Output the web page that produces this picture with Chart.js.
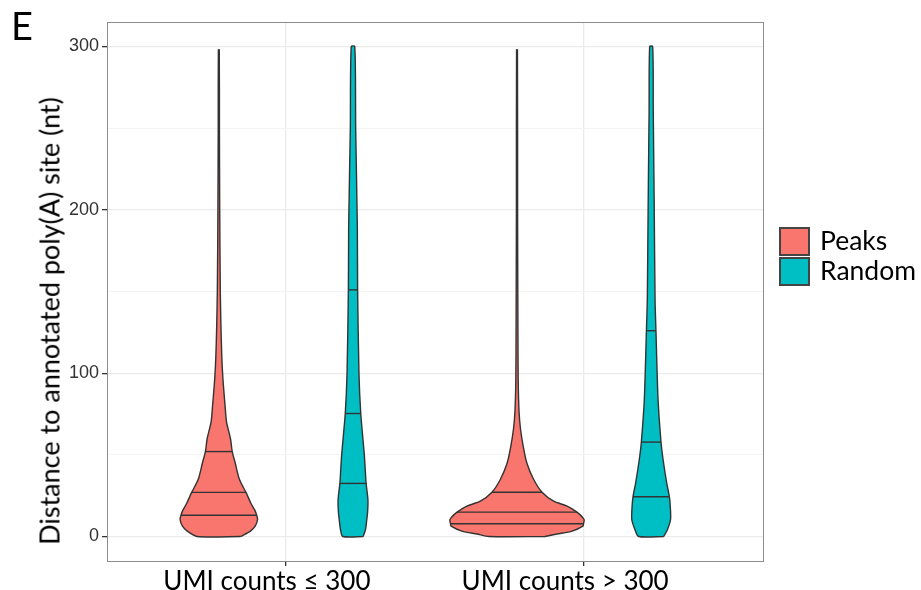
<!DOCTYPE html>
<html>
<head>
<meta charset="utf-8">
<script src="https://cdn.jsdelivr.net/npm/chart.js@4.4.1/dist/chart.umd.min.js"></script>
<style>
  body { margin: 0; background: #fff; }
  #wrap { position: relative; width: 921px; height: 590px; }
  #tag { position: absolute; left: 11px; top: 2px; font: 38px Lato, "Open Sans", sans-serif; color: #000; }
  #ytitle { position: absolute; left: 49px; top: 321px; transform: translate(-50%, -50%) rotate(-90deg);
            white-space: nowrap; font: 27px Lato, "Open Sans", sans-serif; color: #000; }
  .leg { position: absolute; left: 779px; font: 26.5px Lato, "Open Sans", sans-serif; color: #000; }
  .leg span { position: absolute; left: 0; width: 27px; height: 25px; border: 2px solid #444; }
  .leg div { position: absolute; left: 41px; top: -1px; white-space: nowrap; line-height: 28px; }
</style>
</head>
<body>
<div id="wrap">
  <canvas id="violinChart" width="921" height="590"></canvas>
  <div id="tag">E</div>
  <div id="ytitle">Distance to annotated poly(A) site (nt)</div>
  <div id="legend"></div>
</div>
<script>
// kategorie i grupy
const categories = ['UMI counts ≤ 300', 'UMI counts > 300'];
const groups = ['Peaks', 'Random'];
const groupColors = ['#F8766D', '#00BFC4'];
const yTicks = [0, 50, 100, 150, 200, 250, 300];

// połowa szerokości skrzypiec (w jednostkach osi x) na danych poziomach y
const peaksLowLevels = [0, 3.3, 6.3, 10.4, 13, 16, 20.2, 27, 35, 45, 52, 60, 70, 80, 96, 110, 130, 150, 200, 250, 298];
const peaksLowWidths = [0.073, 0.106, 0.122, 0.130, 0.127, 0.121, 0.108, 0.091, 0.069, 0.055, 0.045, 0.039, 0.026, 0.021, 0.014, 0.010, 0.007, 0.005, 0.003, 0.002, 0.0015];
const peaksLowQuantiles = [13, 27, 52];

const randomLowLevels = [0, 4.3, 10, 15, 22.6, 32.5, 50, 75.3, 100, 151, 190, 250, 300];
const randomLowWidths = [0.034, 0.042, 0.046, 0.049, 0.050, 0.044, 0.038, 0.026, 0.020, 0.0155, 0.0145, 0.009, 0.006];
const randomLowQuantiles = [32.5, 75.3, 151];

const peaksHighLevels = [0, 1.5, 3.3, 6.3, 7.8, 10.4, 14.9, 18.6, 21.6, 27.1, 34.9, 45, 55, 65.5, 76, 96, 130, 200, 298];
const peaksHighWidths = [0.094, 0.134, 0.185, 0.221, 0.223, 0.225, 0.201, 0.168, 0.123, 0.084, 0.056, 0.033, 0.021, 0.012, 0.007, 0.004, 0.003, 0.002, 0.0015];
const peaksHighQuantiles = [7.8, 14.9, 27.1];

const randomHighLevels = [0, 4, 10.4, 18.6, 24.3, 32.9, 47, 57.8, 84, 126, 145, 206, 260, 300];
const randomHighWidths = [0.042, 0.054, 0.065, 0.064, 0.061, 0.052, 0.040, 0.033, 0.023, 0.016, 0.013, 0.010, 0.007, 0.005];
const randomHighQuantiles = [24.3, 57.8, 126];

const DODGE = 0.225; // przesunięcie grupy od środka kategorii

function violinOutline(center, levels, widths) {
    const right = levels.map((y, i) => ({ x: center + widths[i], y }));
    const left = levels.map((y, i) => ({ x: center - widths[i], y })).reverse();
    return [...right, ...left, right[0]];
}

function makeViolin(catIdx, grpIdx, levels, widths, quantiles) {
    const center = catIdx + 1 + (grpIdx === 0 ? -DODGE : DODGE);
    const sets = [{
        data: violinOutline(center, levels, widths),
        borderColor: '#333',
        borderWidth: 1.4,
        backgroundColor: groupColors[grpIdx],
        fill: 'shape',
        pointRadius: 0,
        tension: 0.25,
        order: 2
    }];
    quantiles.forEach(q => {
        const w = widths[levels.indexOf(q)];
        sets.push({
            data: [{ x: center - w, y: q }, { x: center + w, y: q }],
            borderColor: '#333',
            borderWidth: 1.4,
            pointRadius: 0,
            fill: false,
            order: 1
        });
    });
    return sets;
}

const datasets = [
    ...makeViolin(0, 0, peaksLowLevels, peaksLowWidths, peaksLowQuantiles),
    ...makeViolin(0, 1, randomLowLevels, randomLowWidths, randomLowQuantiles),
    ...makeViolin(1, 0, peaksHighLevels, peaksHighWidths, peaksHighQuantiles),
    ...makeViolin(1, 1, randomHighLevels, randomHighWidths, randomHighQuantiles)
];

// ramka panelu
const panelBorder = {
    id: 'panelBorder',
    afterDraw(chart) {
        const { ctx, chartArea: a } = chart;
        ctx.save();
        ctx.strokeStyle = '#8c8c8c';
        ctx.lineWidth = 1;
        ctx.strokeRect(a.left + 0.5, a.top + 0.5, a.right - a.left, a.bottom - a.top);
        ctx.restore();
    }
};

new Chart(document.getElementById('violinChart'), {
    type: 'line',
    data: { datasets },
    options: {
        responsive: false,
        animation: false,
        layout: { padding: { left: 0, right: 158, top: 22, bottom: 0 } },
        plugins: { legend: { display: false }, tooltip: { enabled: false } },
        scales: {
            x: {
                type: 'linear',
                min: 0.4, max: 2.6,
                afterBuildTicks: s => { s.ticks = categories.map((c, i) => ({ value: i + 1 })); },
                afterFit: s => { s.height = 29; },
                ticks: {
                    autoSkip: false, maxRotation: 0, padding: 0, labelOffset: -19, color: '#000',
                    font: { family: 'Lato', size: 26 },
                    callback: v => categories[v - 1]
                },
                grid: { color: '#ebebeb', lineWidth: 1.3, tickColor: '#333', tickLength: 5 },
                border: { display: false }
            },
            y: {
                type: 'linear',
                min: -15, max: 315,
                afterBuildTicks: s => { s.ticks = yTicks.map(v => ({ value: v })); },
                afterFit: s => { s.width = 107; },
                ticks: {
                    autoSkip: false, padding: 3, color: '#333',
                    font: { family: 'Liberation Sans', size: 18 },
                    callback: v => (v % 100 === 0 ? v : '')
                },
                grid: {
                    color: c => (c.tick && c.tick.value % 100 === 0 ? '#ebebeb' : '#f4f4f4'),
                    lineWidth: c => (c.tick && c.tick.value % 100 === 0 ? 1.3 : 1),
                    tickColor: c => (c.tick && c.tick.value % 100 === 0 ? '#333' : 'rgba(0,0,0,0)'),
                    tickLength: 5
                },
                border: { display: false }
            }
        }
    },
    plugins: [panelBorder]
});

// legenda w HTML
const legend = document.getElementById('legend');
groups.forEach((g, i) => {
    const item = document.createElement('div');
    item.className = 'leg';
    item.style.top = (227 + i * 30) + 'px';
    item.innerHTML = `<span style="background:${groupColors[i]}"></span><div>${g}</div>`;
    legend.appendChild(item);
});
</script>
</body>
</html>
